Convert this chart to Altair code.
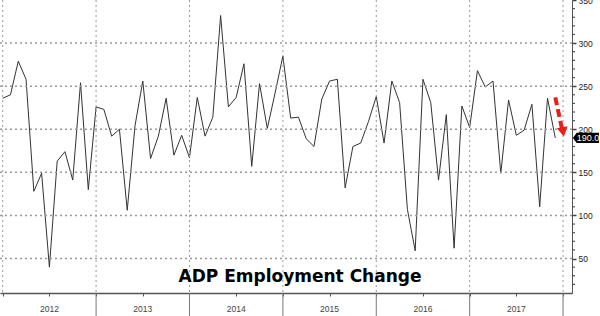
import altair as alt
import pandas as pd

# Monthly ADP employment change (thousands), Dec 2011 .. Nov 2017
adp = [236, 240, 279, 258, 128, 149, 40, 163, 174, 141, 254, 130,
       226, 223, 192, 200, 106, 204, 256, 166, 192, 236, 170, 193,
       167, 237, 192, 214, 332, 226, 237, 276, 157, 253, 201, 242,
       285, 213, 214, 189, 180, 235, 256, 258, 132, 180, 184, 209,
       238, 184, 256, 231, 107, 59, 258, 231, 141, 217, 62, 227,
       202, 268, 249, 256, 149, 234, 193, 199, 229, 110, 236, 190]
years = ["2012", "2013", "2014", "2015", "2016", "2017"]
y_ticks = [50, 100, 150, 200, 250, 300, 350]
minor_ticks = [v for v in range(20, 350, 10) if v % 50 != 0]
title_text = "ADP Employment Change"
last_label = "190.0"
last_value = 190
arrow_from = (71.0, 237)
arrow_to = (71.85, 201)
arrow_head = (72.0, 197)

W, H = 572, 293
X_MIN, X_MAX = -0.347, 73.15

df = pd.DataFrame({"i": list(range(len(adp))), "v": adp})
sep_df = pd.DataFrame({"i": list(range(0, 73, 12))})
sep_long_df = pd.DataFrame({"i": list(range(12, 73, 12))})
year_df = pd.DataFrame({"i": [6 + 12 * k for k in range(len(years))], "t": years})
minor_df = pd.DataFrame({"v": minor_ticks})
grid_df = pd.DataFrame({"v": y_ticks[:-1]})
arrow_df = pd.DataFrame({"i": [arrow_from[0]], "v": [arrow_from[1]],
                         "i2": [arrow_to[0]], "v2": [arrow_to[1]]})
head_df = pd.DataFrame({"i": [arrow_head[0]], "v": [arrow_head[1]]})
tag_df = pd.DataFrame({"v": [last_value], "t": [last_label]})
title_df = pd.DataFrame({"t": [title_text]})

xs = alt.Scale(domain=[X_MIN, X_MAX], nice=False, zero=False)
ys = alt.Scale(domain=[10, 350], nice=False, zero=False)

X = lambda: alt.X("i:Q", scale=xs, title=None)
Y = lambda: alt.Y("v:Q", scale=ys, title=None)

grid_color = "#999999"

# horizontal dotted grid drawn as thin dashed ticks spanning the plot
hgrid = alt.Chart(grid_df).mark_tick(color=grid_color, orient="horizontal", size=W,
                                     thickness=1.5, strokeDash=[2, 3],
                                     strokeWidth=0, opacity=1).encode(
    y=Y(), x=alt.value(W / 2))
hgrid_line = alt.Chart(grid_df).mark_rule(color=grid_color, strokeDash=[2, 3],
                                          strokeWidth=1.5).encode(y=Y())
sep_dotted = alt.Chart(sep_df).mark_rule(color=grid_color, strokeDash=[2, 3], strokeWidth=1).encode(
    x=X())

line = alt.Chart(df).mark_line(color="#333333", strokeWidth=1).encode(
    x=alt.X("i:Q", scale=xs, title=None, axis=alt.Axis(
        values=list(range(0, 73, 3)), labels=False, tickSize=3, grid=False,
        domainColor="#555555", tickColor="#555555", domainWidth=1.5)),
    y=alt.Y("v:Q", scale=ys, title=None, axis=alt.Axis(
        orient="right", values=y_ticks, tickSize=4, tickWidth=1.5, grid=False,
        labelFontSize=8.5, labelColor="#222222", labelPadding=2,
        domainColor="#555555", tickColor="#444444")),
)

sep_long = alt.Chart(sep_long_df).mark_rule(color="#777777", strokeWidth=1).encode(
    x=X(), y=alt.value(H), y2=alt.value(316))
year_text = alt.Chart(year_df).mark_text(fontSize=8.5, color="#444444", font="Liberation Sans",
                                         baseline="middle").encode(
    x=X(), y=alt.value(309), text="t:N")
minor = alt.Chart(minor_df).mark_tick(color="#555555", orient="horizontal", size=3,
                                      thickness=1.2, opacity=1).encode(
    y=Y(), x=alt.value(W + 1.5))

arrow = alt.Chart(arrow_df).mark_rule(color="#e8201a", strokeWidth=4, strokeDash=[8, 4]).encode(
    x=X(), x2="i2:Q", y=Y(), y2="v2:Q")
head = alt.Chart(head_df).mark_point(shape="triangle-down", filled=True, color="#e8201a",
                                     size=120, angle=349, opacity=1).encode(x=X(), y=Y())

tag_shape = "M -1 0 L -0.72 -0.4 L 1 -0.4 L 1 0.4 L -0.72 0.4 Z"
tag = alt.Chart(tag_df).mark_point(shape=tag_shape, filled=True, color="#000000",
                                   size=676, opacity=1).encode(
    x=alt.value(W + 14), y=Y())
tag_text = alt.Chart(tag_df).mark_text(color="white", fontSize=9, font="Liberation Sans",
                                       baseline="middle", align="center").encode(
    x=alt.value(W + 16), y=Y(), text="t:N")

title = alt.Chart(title_df).mark_text(fontSize=17, fontWeight="bold", font="DejaVu Sans",
                                      color="#000000", align="center", baseline="alphabetic").encode(
    x=alt.value(300), y=alt.value(282), text="t:N")

chart = alt.layer(line, hgrid_line, sep_dotted, sep_long, year_text, minor, arrow, head,
                  tag, tag_text, title).properties(
    width=W, height=H,
    autosize=alt.AutoSizeParams(type="none"),
    padding={"left": 0, "top": 0, "right": 28, "bottom": 23},
    background="white",
).configure_view(stroke=None).configure_axis(labelFont="Liberation Sans")

chart.save("out.html", embed_options={"renderer": "svg", "actions": False})
